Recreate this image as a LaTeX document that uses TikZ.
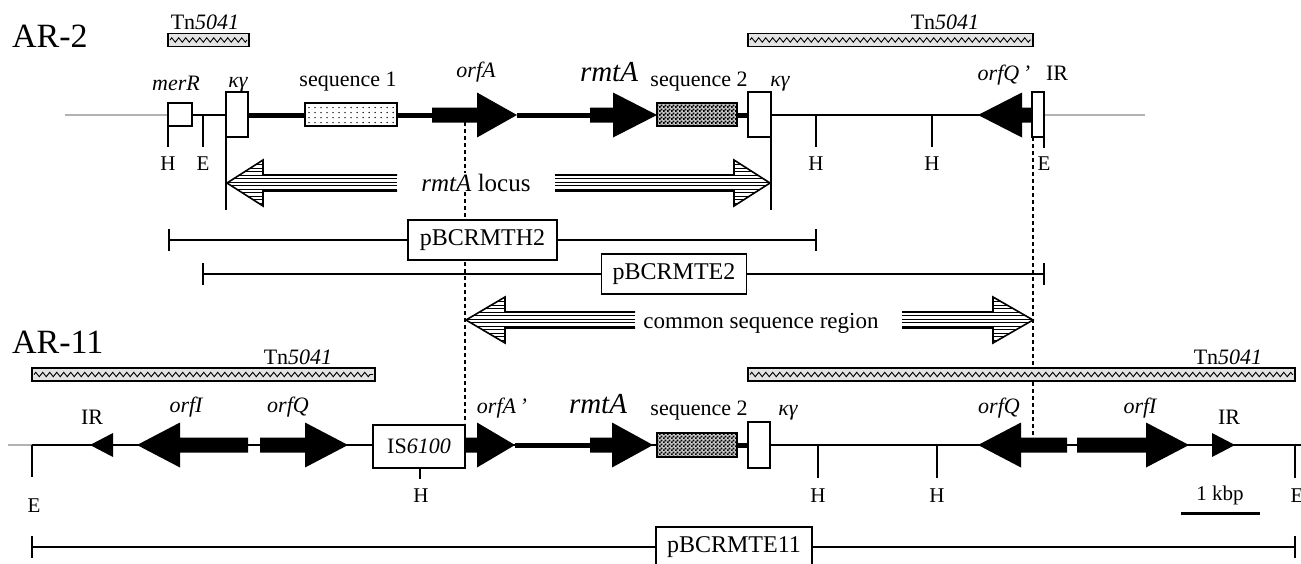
\documentclass[tikz,border=0pt]{standalone}
\usepackage{fontspec}
\setmainfont{Liberation Serif}
\usetikzlibrary{patterns,decorations.pathmorphing}
\pgfdeclarepatternformonly{finechecker}{\pgfpointorigin}{\pgfqpoint{3.6pt}{3.6pt}}{\pgfqpoint{3.6pt}{3.6pt}}{%
  \pgfpathrectangle{\pgfpointorigin}{\pgfqpoint{1.9pt}{1.9pt}}%
  \pgfpathrectangle{\pgfqpoint{1.8pt}{1.8pt}}{\pgfqpoint{1.9pt}{1.9pt}}%
  \pgfusepath{fill}}
% gene arrow: #1 body end x, #2 head base x, #3 tip x, #4 y
\newcommand{\genearrow}[4]{%
  \fill (#1,#4-7.5) -- (#2,#4-7.5) -- (#2,#4-22.5) -- (#3,#4) -- (#2,#4+22.5) -- (#2,#4+7.5) -- (#1,#4+7.5) -- cycle;}
% block arrow: #1 tail x, #2 head base x, #3 tip x, #4 y
\newcommand{\blockarrow}[4]{%
  \begin{scope}
  \clip (#1,#4-8) -- (#2,#4-8) -- (#2,#4-23) -- (#3,#4) -- (#2,#4+23) -- (#2,#4+8) -- (#1,#4+8) -- cycle;
  \foreach \k in {-22,-18.5,...,23} \draw[line width=1pt] (#1,#4+\k) -- (#3,#4+\k);
  \end{scope}
  \draw[line width=1.6pt, line join=miter] (#1,#4-8) -- (#2,#4-8) -- (#2,#4-23) -- (#3,#4) -- (#2,#4+23) -- (#2,#4+8) -- (#1,#4+8);}
% Tn5041 bar
\newcommand{\tnbar}[3]{%
  \draw[fill=gray!22, line width=1.5pt] (#1,#3-6.5) rectangle (#2,#3+6.5);
  \draw[line width=0.9pt, decorate, decoration={zigzag, segment length=7pt, amplitude=2.2pt}] (#1+2,#3) -- (#2-2,#3);}
% sequence-2 box
\newcommand{\seqtwo}[4]{%
  \fill[gray!45] (#1,#2) rectangle (#3,#4);
  \fill[pattern=finechecker] (#1,#2) rectangle (#3,#4);
  \draw[line width=2pt] (#1,#2) rectangle (#3,#4);}
\begin{document}
\begin{tikzpicture}[x=1pt,y=-1pt,
  lab/.style={anchor=base, inner sep=0pt, font=\fontsize{22}{24}\selectfont\itshape},
  labup/.style={anchor=base, inner sep=0pt, font=\fontsize{22}{24}\selectfont},
  site/.style={anchor=base, inner sep=0pt, font=\fontsize{21}{23}\selectfont},
  biglab/.style={anchor=base, inner sep=0pt, font=\fontsize{29}{31}\selectfont\itshape},
  titlelab/.style={anchor=base west, inner sep=0pt, font=\fontsize{34}{36}\selectfont},
  pbox/.style={draw, fill=white, line width=1.5pt, inner sep=0pt, minimum height=40pt, font=\fontsize{24}{26}\selectfont},
  dna/.style={line width=2pt},
  thk/.style={line width=5pt},
  faint/.style={line width=1.2pt, gray!60},
  wbox/.style={draw, fill=white, line width=2pt},
  tickline/.style={line width=2pt},
  dsh/.style={line width=1.2pt, dash pattern=on 4pt off 3pt},
]
\useasboundingbox (0,0) rectangle (1301,563);

% ================= AR-2 =================
\node[titlelab] (ar2) at (12,47) {AR-2};
\tnbar{168}{249}{40}
\tnbar{748}{1033}{40}
\node[labup] (tnA) at (205,29) {Tn\textit{5041}};
\node[labup] (tnB) at (945,29) {Tn\textit{5041}};

\draw[faint] (65,115) -- (168,115);
\draw[faint] (1044,115) -- (1145,115);
\draw[dna] (168,115) -- (226,115);
\draw[dna] (771,115) -- (1032,115);
\draw[thk] (248,115) -- (432,115);
\draw[thk] (517,115) -- (590,115);
\draw[thk] (737,115) -- (748,115);

% restriction ticks
\draw[tickline] (168,126) -- (168,147);
\draw[tickline] (203,115) -- (203,147);
\draw[tickline] (816,115) -- (816,147);
\draw[tickline] (932,115) -- (932,147);
\draw[tickline] (1044,137) -- (1044,148);
\node[site] (h1) at (168,170) {H};
\node[site] (e1) at (203,170) {E};
\node[site] (h2) at (816,170) {H};
\node[site] (h3) at (932,170) {H};
\node[site] (e2) at (1044,170) {E};

% boxes
\draw[wbox] (168,103) rectangle (192,126);
\draw[tickline] (226,137) -- (226,210);
\draw[tickline] (771,137) -- (771,210);
\draw[wbox] (226,92) rectangle (248,137);
\draw[wbox] (748,92) rectangle (771,137);
\draw[wbox] (305,103) rectangle (397,126);
\foreach \i in {0,...,14} \foreach \j in {0,...,3} \fill (309+\i*6,107.5+\j*5) circle (0.75pt);
\seqtwo{657}{103}{737}{126}

% genes
\genearrow{432}{477}{517}{115}
\genearrow{590}{613}{657}{115}
\genearrow{1032}{1022}{978}{115}
\draw[wbox] (1032,92) rectangle (1044,137);

% labels
\node[lab] (merR) at (176,90) {merR};
\node[lab] (ky1) at (238,87) {κγ};
\node[labup] (seq1) at (348,86) {sequence 1};
\node[lab] (orfA) at (476,77) {orfA};
\node[biglab] (rmtA1) at (609,81) {rmtA};
\node[labup] (seq2a) at (699,86) {sequence 2};
\node[lab] (ky2) at (780,86) {κγ};
\node[lab] (orfQp) at (1004,80) {orfQ\,’};
\node[labup] (ir1) at (1057,80) {IR};

% dashed guides
\draw[dsh] (465,122) -- (465,423);
\draw[dsh] (1033,137) -- (1033,438);

% rmtA locus
\blockarrow{397}{263}{227}{183}
\blockarrow{555}{734}{770}{183}
\node[anchor=base, inner sep=1pt, fill=white, font=\fontsize{25}{27}\selectfont] (locus) at (476,191) {\textit{rmtA} locus};

% clones
\draw[dna] (169,240) -- (816,240);
\draw[tickline] (169,229) -- (169,251);
\draw[tickline] (816,229) -- (816,251);
\node[pbox, minimum width=149pt] (pH2) at (482.5,240) {pBCRMTH2};
\draw[dna] (203,274) -- (1044,274);
\draw[tickline] (203,263) -- (203,285);
\draw[tickline] (1044,263) -- (1044,285);
\node[pbox, minimum width=145pt] (pE2) at (674,274) {pBCRMTE2};

% common sequence region
\blockarrow{635}{505}{466}{320}
\blockarrow{902}{993}{1033}{320}
\node[anchor=base, inner sep=0pt, font=\fontsize{23}{25}\selectfont] (common) at (761,328) {common sequence region};

% ================= AR-11 =================
\node[titlelab] (ar11) at (12,353) {AR-11};
\tnbar{32}{375}{374.5}
\tnbar{748}{1295}{374.5}
\node[labup] (tnC) at (298,364) {Tn\textit{5041}};
\node[labup] (tnD) at (1228,364) {Tn\textit{5041}};

\draw[faint] (8,445) -- (32,445);
\draw[dna] (32,445) -- (1301,445);
\draw[thk] (515,445) -- (590,445);
\draw[thk] (737,445) -- (748,445);

\draw[tickline] (32,445) -- (32,477);
\draw[tickline] (420,468) -- (420,479);
\draw[tickline] (818,445) -- (818,478);
\draw[tickline] (937,445) -- (937,478);
\draw[tickline] (1295,445) -- (1295,478);
\node[site] (e3) at (34,512) {E};
\node[site] (h4) at (421,502) {H};
\node[site] (h5) at (818,502) {H};
\node[site] (h6) at (937,502) {H};
\node[site] (e4) at (1297,502) {E};

% genes
\fill (113,433) -- (90,445) -- (113,457) -- cycle;
\genearrow{248}{180}{137}{445}
\genearrow{260}{305}{348}{445}
\genearrow{465}{477}{515}{445}
\genearrow{590}{612}{653}{445}
\genearrow{1067}{1021}{978}{445}
\genearrow{1077}{1146}{1189}{445}
\fill (1212,433) -- (1235,445) -- (1212,457) -- cycle;

\node[draw, fill=white, line width=2pt, minimum width=92pt, minimum height=43pt, inner sep=0pt,
      font=\fontsize{22}{24}\selectfont] (is) at (419,446.5) {IS\textit{6100}};
\seqtwo{657}{433}{737}{457}
\draw[wbox] (748,422) rectangle (770,468);

\node[labup] (ir2) at (92,424) {IR};
\node[lab] (orfI1) at (186,412) {orfI};
\node[lab] (orfQ1) at (288,412) {orfQ};
\node[lab] (orfAp) at (502,413) {orfA\,’};
\node[biglab] (rmtA2) at (598,413) {rmtA};
\node[labup] (seq2b) at (699,415) {sequence 2};
\node[lab] (ky3) at (788,415) {κγ};
\node[lab] (orfQ2) at (999,413) {orfQ};
\node[lab] (orfI2) at (1140,413) {orfI};
\node[labup] (ir3) at (1229,424) {IR};

% scale bar
\draw[line width=3pt] (1181,513) -- (1260,513);
\node[site] (kbp) at (1220,500) {1 kbp};

% pBCRMTE11
\draw[dna] (32,547) -- (1295,547);
\draw[tickline] (32,536) -- (32,558);
\draw[tickline] (1295,536) -- (1295,558);
\node[pbox, minimum width=156pt] (pE11) at (734,547) {pBCRMTE11};
\end{tikzpicture}
\end{document}
